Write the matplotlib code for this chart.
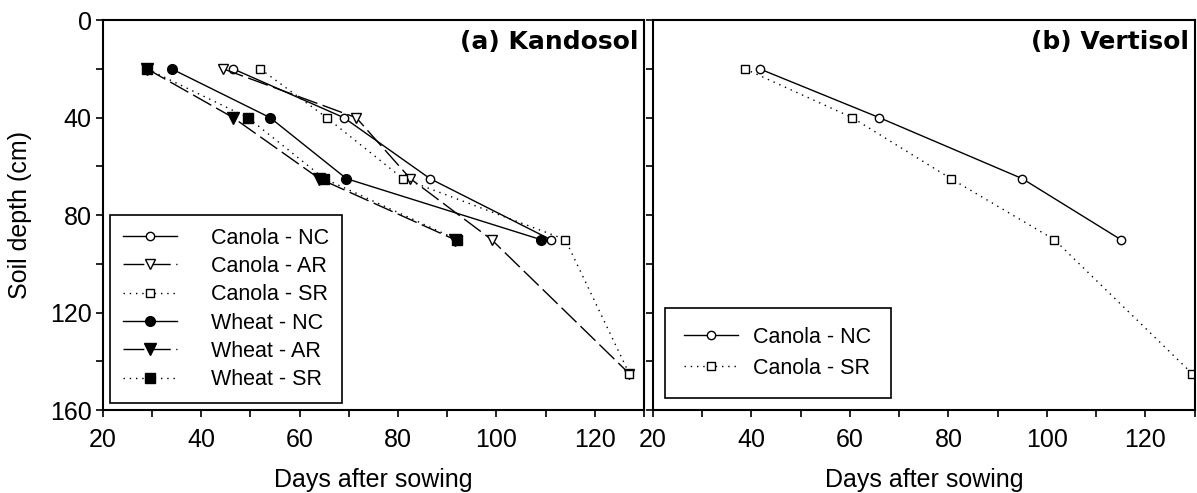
import matplotlib
matplotlib.use("Agg")
import matplotlib.pyplot as plt
from matplotlib.ticker import MultipleLocator

# depths (cm)
depth_k = [20, 40, 65, 90]
depth_k_long = [20, 40, 65, 90, 145]

# (a) Kandosol - days after sowing
canola_nc_k = [46.5, 69.0, 86.5, 111.0]
canola_ar_k = [44.5, 71.5, 82.5, 99.0, 127.0]
canola_sr_k = [52.0, 65.5, 81.0, 114.0, 127.0]
wheat_nc_k = [34.0, 54.0, 69.5, 109.0]
wheat_ar_k = [29.0, 46.5, 64.0, 91.5]
wheat_sr_k = [29.0, 49.5, 65.0, 92.0]

# (b) Vertisol
depth_v_nc = [20, 40, 65, 90]
depth_v_sr = [20, 40, 65, 90, 145]
canola_nc_v = [41.7, 66.0, 95.0, 115.0]
canola_sr_v = [38.7, 60.5, 80.5, 101.5, 129.5]

FONT = "Liberation Sans"
LONG = (15, 4)
DOT = (1, 3.5)

fig = plt.figure(figsize=(11.97, 4.93), dpi=100)
ax1 = fig.add_axes([0.086, 0.168, 0.452, 0.791])
ax2 = fig.add_axes([0.5455, 0.168, 0.4525, 0.791])

lw = 1.0
ms_o = 6
ms_f = 7

# (a)
ax1.plot(canola_nc_k, depth_k, color='k', lw=lw, ls='-', marker='o', ms=ms_o,
         mfc='white', mec='k', label='Canola - NC')
ax1.plot(canola_ar_k, depth_k_long, color='k', lw=lw, dashes=LONG, marker='v', ms=ms_o + 1,
         mfc='white', mec='k', label='Canola - AR')
ax1.plot(canola_sr_k, depth_k_long, color='k', lw=lw, dashes=DOT, marker='s', ms=ms_o,
         mfc='white', mec='k', label='Canola - SR')
ax1.plot(wheat_nc_k, depth_k, color='k', lw=lw, ls='-', marker='o', ms=ms_f,
         mfc='k', mec='k', label='Wheat - NC')
ax1.plot(wheat_ar_k, depth_k, color='k', lw=lw, dashes=LONG, marker='v', ms=ms_f + 1,
         mfc='k', mec='k', label='Wheat - AR')
ax1.plot(wheat_sr_k, depth_k, color='k', lw=lw, dashes=DOT, marker='s', ms=ms_f,
         mfc='k', mec='k', label='Wheat - SR')

# (b)
ax2.plot(canola_nc_v, depth_v_nc, color='k', lw=lw, ls='-', marker='o', ms=ms_o,
         mfc='white', mec='k', label='Canola - NC')
ax2.plot(canola_sr_v, depth_v_sr, color='k', lw=lw, dashes=DOT, marker='s', ms=ms_o,
         mfc='white', mec='k', label='Canola - SR')

for ax in (ax1, ax2):
    ax.set_xlim(20, 130)
    ax.set_ylim(160, 0)
    ax.xaxis.set_minor_locator(MultipleLocator(10))
    ax.yaxis.set_major_locator(MultipleLocator(40))
    ax.yaxis.set_minor_locator(MultipleLocator(20))
    ax.set_xticks([20, 40, 60, 80, 100, 120])
    ax.tick_params(which='both', direction='out', length=5, width=1.2, colors='k')
    ax.tick_params(axis='x', labelsize=18, pad=8)
    ax.tick_params(axis='y', labelsize=18, pad=3)
    for lab in ax.get_xticklabels() + ax.get_yticklabels():
        lab.set_fontfamily(FONT)
    for s in ax.spines.values():
        s.set_linewidth(1.5)
    ax.set_xlabel('Days after sowing', fontsize=18, family=FONT, labelpad=11)

ax2.tick_params(axis='y', labelleft=False)
ax1.set_ylabel('Soil depth (cm)', fontsize=18, family=FONT, labelpad=13)

ax1.text(0.99, 0.975, '(a) Kandosol', transform=ax1.transAxes, ha='right', va='top',
         fontsize=18, fontweight='bold', family='DejaVu Sans')
ax2.text(0.99, 0.975, '(b) Vertisol', transform=ax2.transAxes, ha='right', va='top',
         fontsize=18, fontweight='bold', family='DejaVu Sans')

leg_kw = dict(loc='lower left', fancybox=False, edgecolor='k', framealpha=1,
              prop={'family': FONT, 'size': 15.5}, handlelength=2.5,
              borderaxespad=0)
l1 = ax1.legend(bbox_to_anchor=(0.013, 0.018), borderpad=0.6, handletextpad=1.6,
                labelspacing=0.34, **leg_kw)
l2 = ax2.legend(bbox_to_anchor=(0.022, 0.031), borderpad=0.9, handletextpad=0.7,
                labelspacing=0.45, **leg_kw)
for lg in (l1, l2):
    lg.get_frame().set_linewidth(1.2)

fig.savefig('out.png', dpi=100)
